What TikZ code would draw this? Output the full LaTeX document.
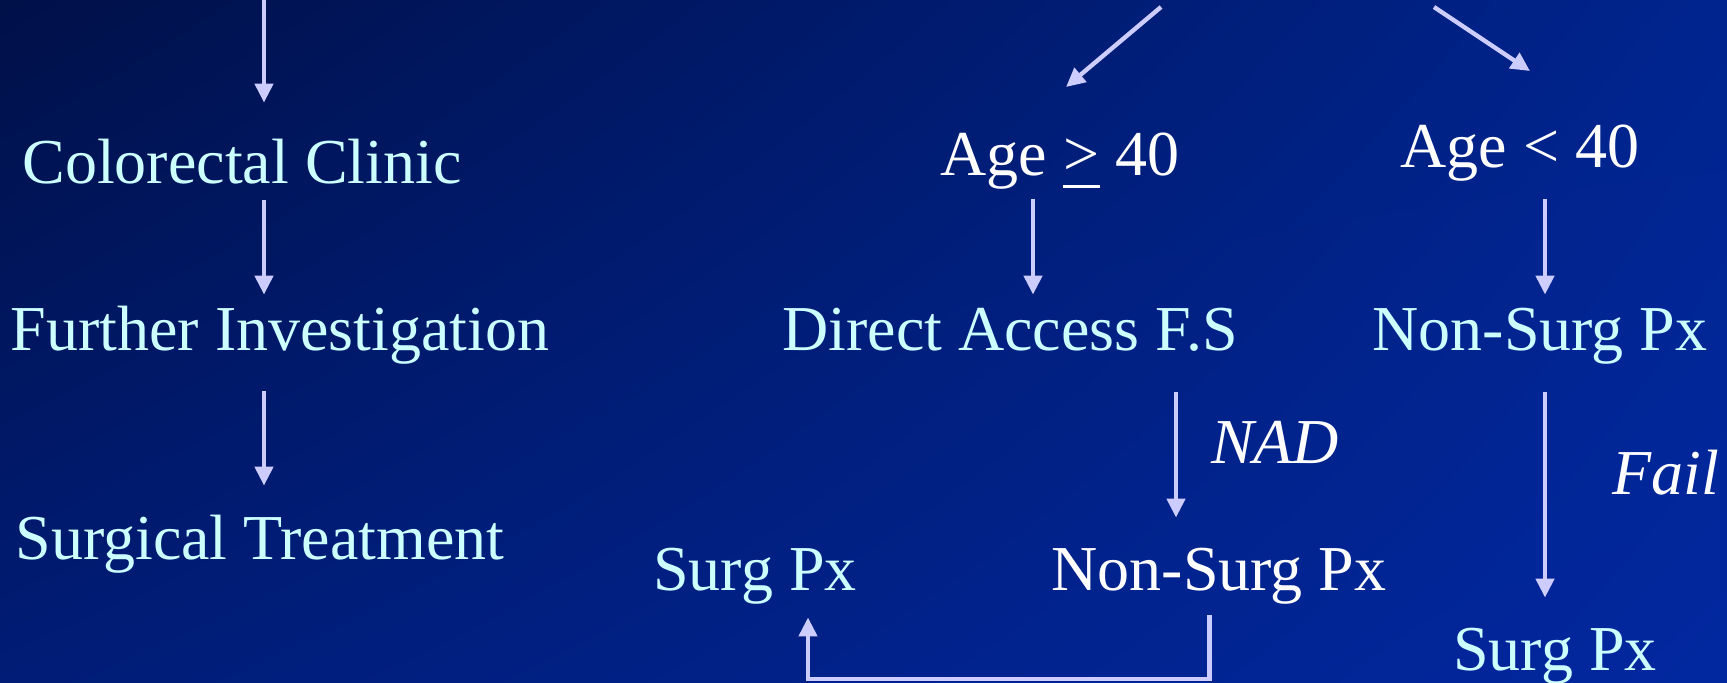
\documentclass[tikz,border=0pt]{standalone}
\usepackage{fontspec}
\setmainfont{Liberation Serif}
\usetikzlibrary{arrows.meta,shadings}
\definecolor{txtc}{HTML}{CCFFFF}
\definecolor{arrc}{HTML}{CCCCFF}
\definecolor{bgUL}{RGB}{0,16,72}
\definecolor{bgUR}{RGB}{0,36,142}
\definecolor{bgLL}{RGB}{0,28,118}
\definecolor{bgLR}{RGB}{2,40,160}
\begin{document}
\begin{tikzpicture}[x=0.5pt,y=-0.5pt,
  lbl/.style={inner sep=0pt, anchor=base, text height=22pt, text depth=7pt, font=\fontsize{32}{38}\selectfont},
  cy/.style={lbl, text=txtc},
  wh/.style={lbl, text=white},
  arr/.style={draw=arrc, line width=2.2pt, -{Triangle[width=9pt,length=9.5pt]}}]
\useasboundingbox (0,0) rectangle (1727,682);
\shade[upper left=bgUL, upper right=bgUR, lower left=bgLL, lower right=bgLR] (0,0) rectangle (1727,682);

% left column
\node[cy] (cc) at (242,183) {Colorectal Clinic};
\node[cy] (fi) at (280,350) {Further Investigation};
\node[cy] (st) at (260,559) {Surgical Treatment};

% right part
\node[wh] (ag) at (1060,175) {Age \rlap{\rule[-6.5pt]{18.5pt}{1.5pt}}> 40};
\node[wh] (al) at (1520,167) {Age < 40};
\node[cy] (da) at (1010,350) {Direct Access F.S};
\node[cy] (ns1) at (1540,350) {Non-Surg Px};
\node[wh] (nad) at (1275,463) {\itshape NAD};
\node[wh] (fail) at (1666,494) {\itshape Fail};
\node[cy] (sp1) at (755,590) {Surg Px};
\node[wh] (ns2) at (1219,590) {Non-Surg Px};
\node[cy] (sp2) at (1555,670) {Surg Px};

% helper coordinates
\coordinate (xL) at (264,0);
\coordinate (xA) at (1033,0);
\coordinate (xB) at (1545,0);
\coordinate (xN) at (1176,0);
\coordinate (xR) at (1209.5,0);
\coordinate (xl) at (808,0);
\coordinate (bot) at (0,679);
\coordinate (d1s) at (1161,7);
\coordinate (d1e) at (1066,87);
\coordinate (d2s) at (1434,7);
\coordinate (d2e) at (1530,71);

% left arrows
\draw[arr, shorten >=18pt] (xL) -- (xL |- cc.north);
\draw[arr, shorten <=1.5pt, shorten >=5.5pt] (xL |- cc.south) -- (xL |- fi.north);
\draw[arr, shorten <=13.5pt, shorten >=14.5pt] (xL |- fi.south) -- (xL |- st.north);

% right arrows
\draw[arr] (d1s) -- (d1e);
\draw[arr] (d2s) -- (d2e);
\draw[arr, shorten <=5pt, shorten >=5.5pt] (xA |- ag.south) -- (xA |- da.north);
\draw[arr, shorten <=9pt, shorten >=5.5pt] (xB |- al.south) -- (xB |- ns1.north);
\draw[arr, shorten <=14pt, shorten >=14pt] (xN |- da.south) -- (xN |- ns2.north);
\draw[arr, shorten <=14pt, shorten >=14pt] (xB |- ns1.south) -- (xB |- sp2.north);
\draw[arr, shorten <=5.5pt, shorten >=6.5pt] (xR |- ns2.south) -- (xR |- bot) -- (xl |- bot) -- (xl |- sp1.south);
\end{tikzpicture}
\end{document}
